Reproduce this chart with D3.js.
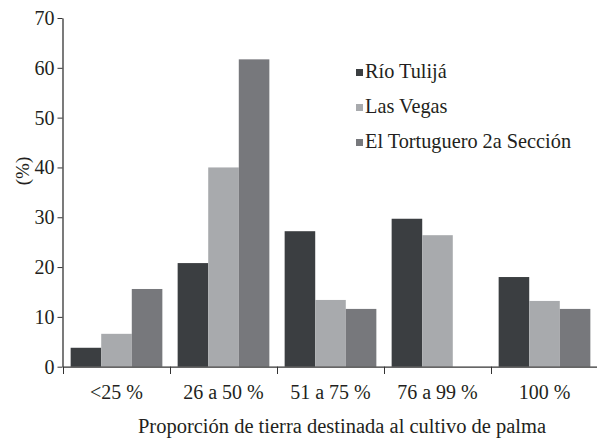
<!DOCTYPE html>
<html><head><meta charset="utf-8">
<script src="https://cdn.jsdelivr.net/npm/d3@7"></script>
<style>body{margin:0;background:#fff}</style>
</head><body><svg id="c" width="597" height="439"></svg>
<script>
const categories = ["<25 %", "26 a 50 %", "51 a 75 %", "76 a 99 %", "100 %"];
const seriesNames = ["Río Tulijá", "Las Vegas", "El Tortuguero 2a Sección"];
const rioTulija = [3.8, 20.8, 27.2, 29.7, 18.0];
const lasVegas = [6.6, 40.0, 13.4, 26.4, 13.2];
const tortuguero = [15.6, 61.7, 11.6, 0, 11.6];
const yTicks = [0, 10, 20, 30, 40, 50, 60, 70];
const colors = ["#3b3e41", "#a8aaad", "#77787c"];
const series = [rioTulija, lasVegas, tortuguero];
const FONT = "Liberation Serif";
const TXT = "#231f20";

const svg = d3.select("#c");
const x = d3.scaleBand().domain(categories).range([63, 598]).paddingInner(0).paddingOuter(0);
const xs = d3.scaleBand().domain(d3.range(3)).range([0, x.bandwidth()]).paddingInner(0).paddingOuter(0.25);
const y = d3.scaleLinear().domain([0, 70]).range([366.7, 18]);

categories.forEach((c, i) => {
  series.forEach((s, j) => {
    if (s[i] <= 0) return;
    svg.append("rect").attr("x", x(c) + xs(j)).attr("width", xs.bandwidth())
      .attr("y", y(s[i])).attr("height", y(0) - y(s[i])).attr("fill", colors[j]);
  });
});

const yAxis = svg.append("g").attr("transform", "translate(62.5,0)")
  .call(d3.axisLeft(y).tickValues(yTicks).tickSize(5).tickPadding(3).tickSizeOuter(0));
yAxis.selectAll("text").style("font-family", FONT).style("font-size", "20px").style("fill", TXT);
svg.append("g").attr("transform", "translate(0,366.7)")
  .call(d3.axisBottom(x).tickValues([]).tickSizeOuter(0));
svg.append("g").selectAll("line").data(categories).join("line")
  .attr("x1", d => x(d) + 0.5).attr("x2", d => x(d) + 0.5).attr("y1", 366.7).attr("y2", 374)
  .attr("stroke", "#333");
svg.selectAll(".domain").attr("stroke", "#333").attr("stroke-width", 1.3);
svg.selectAll(".tick line").attr("stroke", "#333");

svg.append("g").selectAll("text").data(categories).join("text")
  .attr("x", d => x(d) + x.bandwidth() / 2).attr("y", 399).attr("text-anchor", "middle")
  .style("font-family", FONT).style("font-size", "20px").style("fill", TXT).text(d => d);

svg.append("text").attr("x", 342).attr("y", 433).attr("text-anchor", "middle")
  .style("font-family", FONT).style("font-size", "20.5px").style("fill", TXT)
  .text("Proporción de tierra destinada al cultivo de palma");

svg.append("text").attr("transform", "translate(29,171) rotate(-90)").attr("text-anchor", "middle")
  .style("font-family", FONT).style("font-size", "19px").style("fill", TXT).text("(%)");

const leg = svg.append("g");
seriesNames.forEach((n, j) => {
  const by = 78 + j * 35;
  leg.append("rect").attr("x", 356).attr("y", by - 9).attr("width", 7).attr("height", 7).attr("fill", colors[j]);
  leg.append("text").attr("x", 365).attr("y", by)
    .style("font-family", FONT).style("font-size", "20.3px").style("fill", TXT).text(n);
});
</script></body></html>
